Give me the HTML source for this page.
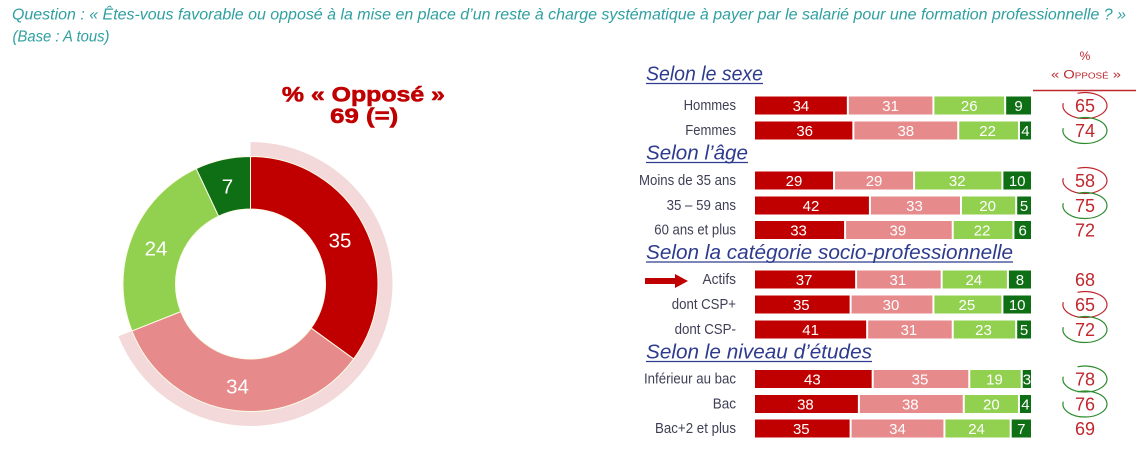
<!DOCTYPE html>
<html><head><meta charset="utf-8"><style>
html,body{margin:0;padding:0;background:#fff;}
svg{display:block;}
</style></head><body>
<svg width="1147" height="466" viewBox="0 0 1147 466" xmlns="http://www.w3.org/2000/svg" font-family="'Liberation Sans', Arial, sans-serif">
<rect width="1147" height="466" fill="#fff"/>
<!-- Question -->
<text x="12" y="19.5" font-size="15.5" font-style="italic" fill="#2f9fa0" textLength="1114" lengthAdjust="spacingAndGlyphs">Question : « Êtes-vous favorable ou opposé à la mise en place d’un reste à charge systématique à payer par le salarié pour une formation professionnelle ? »</text>
<text x="12.5" y="41.5" font-size="15.5" font-style="italic" fill="#2f9fa0" textLength="97" lengthAdjust="spacingAndGlyphs">(Base : A tous)</text>

<!-- Title -->
<text x="363.4" y="101.5" font-size="21.5" font-weight="bold" fill="#c00000" stroke="#c00000" stroke-width="0.6" text-anchor="middle" textLength="163" lengthAdjust="spacingAndGlyphs">% « Opposé »</text>
<text x="364.2" y="123" font-size="21.5" font-weight="bold" fill="#c00000" stroke="#c00000" stroke-width="0.6" text-anchor="middle" textLength="68" lengthAdjust="spacingAndGlyphs">69 (=)</text>

<!-- Donut highlight band -->
<path d="M250.5,142 A142,142 0 1 1 118.47,336.27 L131.95,330.93 A127.5,127.5 0 1 0 250.5,156.5 Z" fill="#f3d9da"/>
<!-- Donut -->
<g stroke="#fbfbe6" stroke-width="1">
<path d="M250.5,156.5 A127.5,127.5 0 0 1 353.65,358.94 L311.18,328.09 A75,75 0 0 0 250.5,209 Z" fill="#c00000"/>
<path d="M353.65,358.94 A127.5,127.5 0 0 1 131.95,330.93 L180.76,311.61 A75,75 0 0 0 311.18,328.09 Z" fill="#e68a8b"/>
<path d="M131.95,330.93 A127.5,127.5 0 0 1 196.21,168.64 L218.56,216.14 A75,75 0 0 0 180.76,311.61 Z" fill="#92d050"/>
<path d="M196.21,168.64 A127.5,127.5 0 0 1 250.5,156.5 L250.5,209 A75,75 0 0 0 218.56,216.14 Z" fill="#0f6f14"/>
</g>
<g font-size="20.5" fill="#fff" text-anchor="middle">
<text x="340" y="247.3">35</text>
<text x="237.5" y="393.3">34</text>
<text x="156" y="255.7">24</text>
<text x="227.5" y="193.3">7</text>
</g>

<!-- Section headers -->
<g font-size="20.5" font-style="italic" fill="#2e3b8e">
<text x="646" y="80.5" textLength="117" lengthAdjust="spacingAndGlyphs">Selon le sexe</text>
<text x="646" y="159.5" textLength="102" lengthAdjust="spacingAndGlyphs">Selon l’âge</text>
<text x="646" y="259" textLength="367" lengthAdjust="spacingAndGlyphs">Selon la catégorie socio-professionnelle</text>
<text x="646" y="358.5" textLength="226" lengthAdjust="spacingAndGlyphs">Selon le niveau d’études</text>
</g>
<g stroke="#2e3b8e" stroke-width="1.3">
<line x1="646" y1="83.5" x2="763" y2="83.5"/>
<line x1="646" y1="162.5" x2="748" y2="162.5"/>
<line x1="646" y1="262" x2="1013" y2="262"/>
<line x1="646" y1="361.5" x2="872" y2="361.5"/>
</g>

<!-- Row labels -->
<g font-size="14.5" fill="#3f3f55" text-anchor="end">
<text x="736" y="110" textLength="52.4" lengthAdjust="spacingAndGlyphs">Hommes</text>
<text x="736" y="135" textLength="50.7" lengthAdjust="spacingAndGlyphs">Femmes</text>
<text x="736" y="185" textLength="97" lengthAdjust="spacingAndGlyphs">Moins de 35 ans</text>
<text x="736" y="210" textLength="69.4" lengthAdjust="spacingAndGlyphs">35 – 59 ans</text>
<text x="736" y="234.5" textLength="81.7" lengthAdjust="spacingAndGlyphs">60 ans et plus</text>
<text x="736" y="284" textLength="33.5" lengthAdjust="spacingAndGlyphs">Actifs</text>
<text x="736" y="309" textLength="64.2" lengthAdjust="spacingAndGlyphs">dont CSP+</text>
<text x="736" y="334" textLength="61.4" lengthAdjust="spacingAndGlyphs">dont CSP-</text>
<text x="736" y="383.5" textLength="92" lengthAdjust="spacingAndGlyphs">Inférieur au bac</text>
<text x="736" y="408.5" textLength="23.3" lengthAdjust="spacingAndGlyphs">Bac</text>
<text x="736" y="433" textLength="81" lengthAdjust="spacingAndGlyphs">Bac+2 et plus</text>
</g>

<!-- Arrow -->
<path d="M645,278 L675,278 L675,274 L688,281 L675,288 L675,284 L645,284 Z" fill="#c00000"/>

<!-- Bars -->
<g>
<rect x="755" y="96.5" width="91.84" height="18" fill="#c00000"/>
<rect x="848.84" y="96.5" width="83.56" height="18" fill="#e68a8b"/>
<rect x="934.4" y="96.5" width="69.76" height="18" fill="#92d050"/>
<rect x="1006.16" y="96.5" width="24.84" height="18" fill="#0f6f14"/>
<rect x="755" y="121.5" width="97.36" height="18" fill="#c00000"/>
<rect x="854.36" y="121.5" width="102.88" height="18" fill="#e68a8b"/>
<rect x="959.24" y="121.5" width="58.72" height="18" fill="#92d050"/>
<rect x="1019.96" y="121.5" width="11.04" height="18" fill="#0f6f14"/>
<rect x="755" y="171.5" width="78.04" height="18" fill="#c00000"/>
<rect x="835.04" y="171.5" width="78.04" height="18" fill="#e68a8b"/>
<rect x="915.08" y="171.5" width="86.32" height="18" fill="#92d050"/>
<rect x="1003.4" y="171.5" width="27.6" height="18" fill="#0f6f14"/>
<rect x="755" y="196.5" width="113.92" height="18" fill="#c00000"/>
<rect x="870.92" y="196.5" width="89.08" height="18" fill="#e68a8b"/>
<rect x="962" y="196.5" width="53.2" height="18" fill="#92d050"/>
<rect x="1017.2" y="196.5" width="13.8" height="18" fill="#0f6f14"/>
<rect x="755" y="221" width="89.08" height="18" fill="#c00000"/>
<rect x="846.08" y="221" width="105.64" height="18" fill="#e68a8b"/>
<rect x="953.72" y="221" width="58.72" height="18" fill="#92d050"/>
<rect x="1014.44" y="221" width="16.56" height="18" fill="#0f6f14"/>
<rect x="755" y="270.5" width="100.12" height="18" fill="#c00000"/>
<rect x="857.12" y="270.5" width="83.56" height="18" fill="#e68a8b"/>
<rect x="942.68" y="270.5" width="64.24" height="18" fill="#92d050"/>
<rect x="1008.92" y="270.5" width="22.08" height="18" fill="#0f6f14"/>
<rect x="755" y="295.5" width="94.6" height="18" fill="#c00000"/>
<rect x="851.6" y="295.5" width="80.8" height="18" fill="#e68a8b"/>
<rect x="934.4" y="295.5" width="67" height="18" fill="#92d050"/>
<rect x="1003.4" y="295.5" width="27.6" height="18" fill="#0f6f14"/>
<rect x="755" y="320.5" width="111.16" height="18" fill="#c00000"/>
<rect x="868.16" y="320.5" width="83.56" height="18" fill="#e68a8b"/>
<rect x="953.72" y="320.5" width="61.48" height="18" fill="#92d050"/>
<rect x="1017.2" y="320.5" width="13.8" height="18" fill="#0f6f14"/>
<rect x="755" y="370" width="116.68" height="18" fill="#c00000"/>
<rect x="873.68" y="370" width="94.6" height="18" fill="#e68a8b"/>
<rect x="970.28" y="370" width="50.44" height="18" fill="#92d050"/>
<rect x="1022.72" y="370" width="8.28" height="18" fill="#0f6f14"/>
<rect x="755" y="395" width="102.88" height="18" fill="#c00000"/>
<rect x="859.88" y="395" width="102.88" height="18" fill="#e68a8b"/>
<rect x="964.76" y="395" width="53.2" height="18" fill="#92d050"/>
<rect x="1019.96" y="395" width="11.04" height="18" fill="#0f6f14"/>
<rect x="755" y="419.5" width="94.6" height="18" fill="#c00000"/>
<rect x="851.6" y="419.5" width="91.84" height="18" fill="#e68a8b"/>
<rect x="945.44" y="419.5" width="64.24" height="18" fill="#92d050"/>
<rect x="1011.68" y="419.5" width="19.32" height="18" fill="#0f6f14"/>
</g>

<!-- Bar numbers -->
<g font-size="15" fill="#fff" text-anchor="middle">
<text x="800.92" y="111">34</text><text x="890.62" y="111">31</text><text x="969.28" y="111">26</text><text x="1018.58" y="111">9</text>
<text x="804.68" y="136">36</text><text x="905.8" y="136">38</text><text x="987.6" y="136">22</text><text x="1025.48" y="136">4</text>
<text x="794.02" y="186">29</text><text x="874.06" y="186">29</text><text x="957.24" y="186">32</text><text x="1017.2" y="186">10</text>
<text x="810.96" y="211">42</text><text x="914.46" y="211">33</text><text x="987.6" y="211">20</text><text x="1024.1" y="211">5</text>
<text x="798.54" y="235.5">33</text><text x="897.9" y="235.5">39</text><text x="982.08" y="235.5">22</text><text x="1022.72" y="235.5">6</text>
<text x="804.06" y="285">37</text><text x="897.9" y="285">31</text><text x="973.8" y="285">24</text><text x="1019.96" y="285">8</text>
<text x="801.3" y="310">35</text><text x="891" y="310">30</text><text x="966.9" y="310">25</text><text x="1017.2" y="310">10</text>
<text x="810.58" y="335">41</text><text x="908.94" y="335">31</text><text x="983.46" y="335">23</text><text x="1024.1" y="335">5</text>
<text x="812.34" y="384.5">43</text><text x="919.98" y="384.5">35</text><text x="994.5" y="384.5">19</text><text x="1026.86" y="384.5">3</text>
<text x="805.44" y="409.5">38</text><text x="910.32" y="409.5">38</text><text x="991.36" y="409.5">20</text><text x="1025.48" y="409.5">4</text>
<text x="801.3" y="434">35</text><text x="897.52" y="434">34</text><text x="976.56" y="434">24</text><text x="1021.34" y="434">7</text>
</g>

<!-- Right column header -->
<text x="1085" y="60" font-size="12" fill="#c0272d" text-anchor="middle">%</text>
<text x="1086" y="78.3" font-size="12" fill="#c0272d" text-anchor="middle" style="font-variant:small-caps" textLength="70" lengthAdjust="spacingAndGlyphs">« Opposé »</text>
<line x1="1033" y1="90.5" x2="1136" y2="90.5" stroke="#c0272d" stroke-width="1.5"/>

<!-- Percent values -->
<g font-size="18" fill="#c0272d" text-anchor="middle">
<text x="1085" y="112">65</text>
<text x="1085" y="137">74</text>
<text x="1085" y="187">58</text>
<text x="1085" y="212">75</text>
<text x="1085" y="236.5">72</text>
<text x="1085" y="286">68</text>
<text x="1085" y="311">65</text>
<text x="1085" y="336">72</text>
<text x="1085" y="385.5">78</text>
<text x="1085" y="410.5">76</text>
<text x="1085" y="435">69</text>
</g>

<!-- Circles -->
<g fill="none" stroke-width="1.2">
<path d="M1077.5,93.3 A22,13 0 1 1 1063.3,103.2" stroke="#c0272d"/>
<path d="M1077.5,118.3 A22,13 0 1 1 1063.3,128.2" stroke="#2e8b2e"/>
<path d="M1077.5,168.3 A22,13 0 1 1 1063.3,178.2" stroke="#c0272d"/>
<path d="M1077.5,193.3 A22,13 0 1 1 1063.3,203.2" stroke="#2e8b2e"/>
<path d="M1077.5,292.3 A22,13 0 1 1 1063.3,302.2" stroke="#c0272d"/>
<path d="M1077.5,317.3 A22,13 0 1 1 1063.3,327.2" stroke="#2e8b2e"/>
<path d="M1077.5,366.8 A22,13 0 1 1 1063.3,376.7" stroke="#2e8b2e"/>
<path d="M1077.5,391.8 A22,13 0 1 1 1063.3,401.7" stroke="#2e8b2e"/>
</g>
</svg>
</body></html>
